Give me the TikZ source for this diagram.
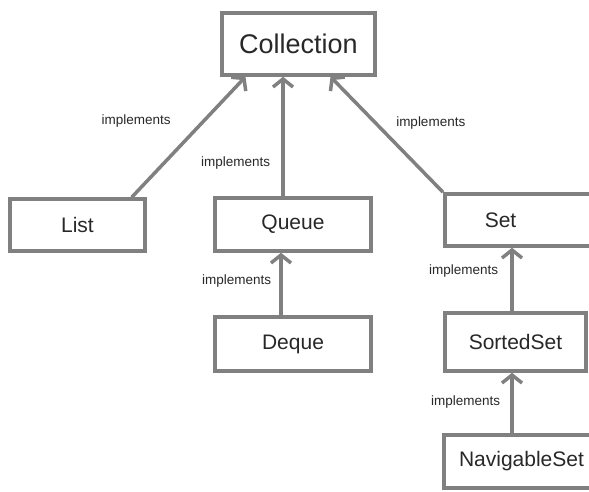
\documentclass[tikz,border=0pt]{standalone}
\usepackage{fontspec}
\setmainfont{Liberation Sans}
\usetikzlibrary{arrows.meta}
\definecolor{linegray}{RGB}{128,128,128}
\definecolor{textgray}{RGB}{40,40,40}
\tikzset{
  box/.style={draw=linegray, line width=3.5pt, fill=white, text=textgray,
    font=\fontsize{21}{25}\selectfont, inner sep=0pt},
  impl/.style={draw=linegray, line width=3.5pt,
    -{Straight Barb[length=8pt,width=20pt]}},
  lbl/.style={text=textgray, font=\fontsize{13.5}{16}\selectfont, inner sep=0pt}
}
\begin{document}
\begin{tikzpicture}[x=1pt, y=-1pt]
        \clip (0,0) rectangle (589,492);
        \fill[white] (0,0) rectangle (589,492);
        % boxes
        \node[box, minimum width=153pt, minimum height=62pt, font=\fontsize{27}{32}\selectfont] (coll) at (298.5,44) {Collection};
        \node[box, minimum width=135pt, minimum height=52pt] (list) at (77.5,225) {List};
        \node[box, minimum width=156pt, minimum height=53pt] (queue) at (293,224.5) {Queue};
        \node[box, minimum width=156pt, minimum height=54pt] (deque) at (293,344) {Deque};
        \node[box, anchor=west, minimum height=52pt, inner xsep=40pt, text width=100pt, align=left] (set) at (443,220) {Set};
        \node[box, minimum width=141pt, minimum height=58pt] (sorted) at (515.5,342) {SortedSet};
        \node[box, minimum width=155pt, minimum height=53pt] (navset) at (521.5,461.5) {NavigableSet};

        % arrows
        \draw[impl] ([xshift=-15pt]list.north east) -- node[lbl, pos=0.63, left=31pt] {implements} ([xshift=-53pt]coll.south);
        \draw[impl] ([xshift=-10pt]queue.north) -- node[lbl, pos=0.28, left=11pt] {implements} ([xshift=-10pt]queue.north |- coll.south);
        \draw[impl] (set.north west) -- node[lbl, pos=0.6, right=19pt] {implements} ([xshift=32pt]coll.south);
        \draw[impl] ([xshift=-12pt]deque.north) -- node[lbl, pos=0.55, left=8pt] {implements} ([xshift=-12pt]deque.north |- queue.south);
        \draw[impl] ([xshift=-3.5pt]sorted.north) -- node[lbl, pos=0.63, left=12pt] {implements} ([xshift=-3.5pt]sorted.north |- set.south);
        \draw[impl] ([xshift=-9.5pt]navset.north) -- node[lbl, pos=0.52, left=10pt] {implements} ([xshift=-9.5pt]navset.north |- sorted.south);
\end{tikzpicture}
\end{document}
